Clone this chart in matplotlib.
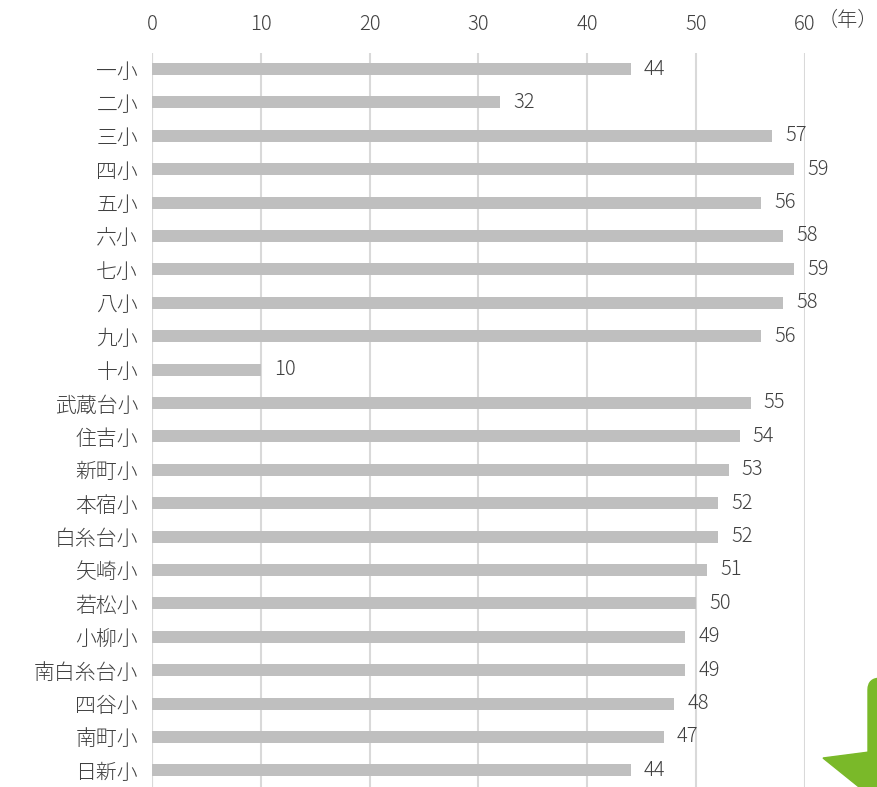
import matplotlib
matplotlib.use("Agg")
import matplotlib.pyplot as plt
from matplotlib.patches import Polygon, FancyBboxPatch

plt.rcParams['font.family'] = ['Noto Sans CJK JP', 'DejaVu Sans']

schools = ['一小', '二小', '三小', '四小', '五小', '六小', '七小', '八小', '九小', '十小',
           '武蔵台小', '住吉小', '新町小', '本宿小', '白糸台小', '矢崎小', '若松小', '小柳小',
           '南白糸台小', '四谷小', '南町小', '日新小']
years = [44, 32, 57, 59, 56, 58, 59, 58, 56, 10,
         55, 54, 53, 52, 52, 51, 50, 49, 49, 48, 47, 44]
xticks = [0, 10, 20, 30, 40, 50, 60]

fig = plt.figure(figsize=(8.78, 7.87), dpi=100)
ax = fig.add_axes([152/878, 0.0, (805-152)/878, 1 - 53/787])

y = list(range(len(schools)))
ax.barh(y, years, height=0.36, color='#bfbfbf', zorder=2)
for yi, v in zip(y, years):
    ax.text(v + 1.2, yi, str(v), va='center', ha='left', fontsize=14.5,
            color='#404040', fontweight='light')

ax.set_xlim(0, 60)
ax.set_ylim(len(schools) - 0.5, -0.48)
ax.set_yticks(y)
ax.set_yticklabels(schools, fontsize=15, color='#404040', fontweight='light')
ax.set_xticks(xticks)
ax.set_xticklabels([str(t) for t in xticks], fontsize=14.5, color='#404040',
                   fontweight='light')
ax.xaxis.tick_top()
ax.tick_params(axis='both', length=0)
ax.tick_params(axis='x', pad=13)
ax.tick_params(axis='y', pad=10)
ax.grid(axis='x', color='#d9d9d9', linewidth=1.5, zorder=0)
for s in ax.spines.values():
    s.set_visible(False)
ax.axvline(0, color='#d9d9d9', linewidth=1.5, zorder=1)

fig.text(818/878, 1 - 20/787, '（年）', fontsize=14.5, color='#404040', va='center',
         ha='left', fontweight='light')

# green arrow decoration in the lower right corner
green = '#7ab929'
fig.patches.append(FancyBboxPatch((868/878, 1 - 770/787), 30/878, 92/787,
                                  boxstyle='round,pad=0,rounding_size=0.015',
                                  transform=fig.transFigure, color=green))
fig.patches.append(Polygon([(823/878, 1 - 758/787), (900/878, 1 - 748/787),
                            (900/878, 1 - 820/787)], closed=True,
                           transform=fig.transFigure, color=green))

fig.savefig('out.png', dpi=100)
